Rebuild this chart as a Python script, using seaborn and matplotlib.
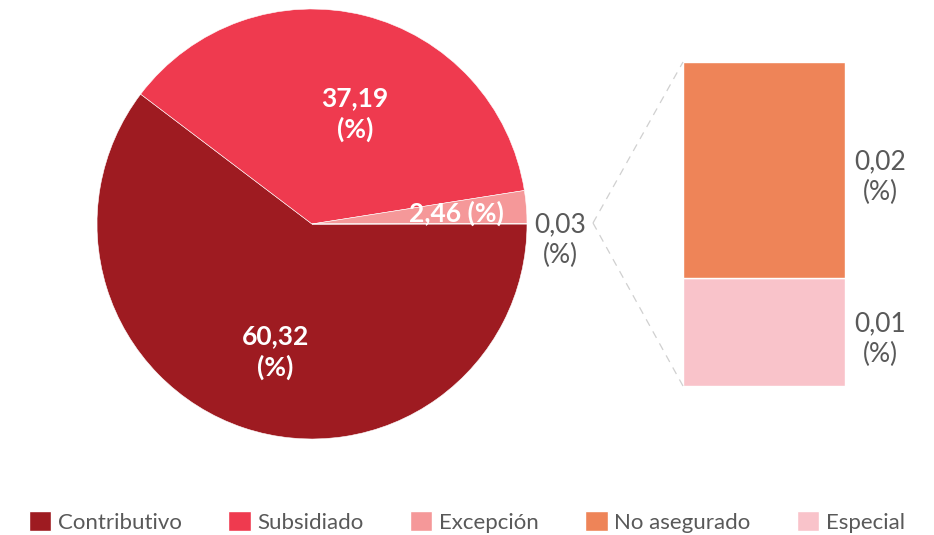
import matplotlib
matplotlib.use("Agg")
import matplotlib.pyplot as plt
import seaborn as sns
from matplotlib.patches import Patch
from matplotlib.lines import Line2D
from matplotlib.transforms import offset_copy

# data
pie_labels = ["Contributivo", "Subsidiado", "Excepción", "Otros"]
pie_values = [60.32, 37.19, 2.46, 0.03]
bar_labels = ["No asegurado", "Especial"]
bar_values = [0.02, 0.01]

colors = {
    "Contributivo": "#9E1B21",
    "Subsidiado": "#EF3A4F",
    "Excepción": "#F59899",
    "Otros": "#EE8458",
    "No asegurado": "#EE8458",
    "Especial": "#F9C3CA",
}

sns.set_theme(style="white")
plt.rcParams["font.family"] = ["Lato", "DejaVu Sans"]

W, H = 934, 535
fig = plt.figure(figsize=(W / 100, H / 100), dpi=100)

def px_axes(left, top, right, bottom):
    return fig.add_axes([left / W, 1 - bottom / H, (right - left) / W, (bottom - top) / H])

# pie of the main regimes
ax_pie = px_axes(97, 9, 527, 439)
wedges, _ = ax_pie.pie(
    pie_values,
    colors=[colors[k] for k in pie_labels],
    startangle=0,
    counterclock=False,
    wedgeprops=dict(edgecolor="white", linewidth=0.4),
)
ax_pie.set_xlim(-1, 1)
ax_pie.set_ylim(-1, 1)
ax_pie.set_aspect("auto")
ax_pie.axis("off")

def fmt(v):
    return f"{v:.2f}".replace(".", ",")

lbl = dict(ha="center", va="center", fontsize=19, fontweight="bold", linespacing=1.3)
ax_pie.text(0.20, 0.51, f"{fmt(pie_values[1])}\n(%)", color="white", **lbl)
ax_pie.text(-0.17, -0.595, f"{fmt(pie_values[0])}\n(%)", color="white", **lbl)
ax_pie.text(0.67, 0.05, f"{fmt(pie_values[2])} (%)", color="white", **lbl)
ax_pie.text(1.155, -0.075, f"{fmt(pie_values[3])}\n(%)", color="#595959",
            ha="center", va="center", fontsize=19, linespacing=1.3, clip_on=False)

# stacked bar breaking down the small slice
ax_bar = px_axes(683, 62, 845, 386)
shifted = offset_copy(ax_bar.transData, fig=fig, x=0, y=-7, units="dots")
bottom = 0
for name, val in zip(reversed(bar_labels), reversed(bar_values)):
    ax_bar.bar(0, val, width=1, bottom=bottom, color=colors[name])
    ax_bar.text(0.716, bottom + val / 2, f"{fmt(val)}\n(%)", color="#595959",
                ha="center", va="center", fontsize=19, linespacing=1.3,
                clip_on=False, transform=shifted)
    bottom += val
ax_bar.set_xlim(-0.5, 0.5)
ax_bar.set_ylim(0, sum(bar_values))
ax_bar.axis("off")

# dashed connector lines
for y_end in (62, 386):
    fig.add_artist(Line2D([593 / W, 683 / W], [1 - 223 / H, 1 - y_end / H],
                          color="#d0d0d0", lw=0.9, ls=(0, (6, 5))))

handles = [Patch(facecolor=colors[k], label=k) for k in pie_labels[:3] + bar_labels]
fig.legend(handles=handles, loc="center", bbox_to_anchor=(0.5, 1 - 522 / H), ncol=5,
           frameon=False, fontsize=16, handlelength=1.0, handleheight=1.0,
           handletextpad=0.3, columnspacing=2.1, labelcolor="#595959")

fig.savefig("out.png", dpi=100)
